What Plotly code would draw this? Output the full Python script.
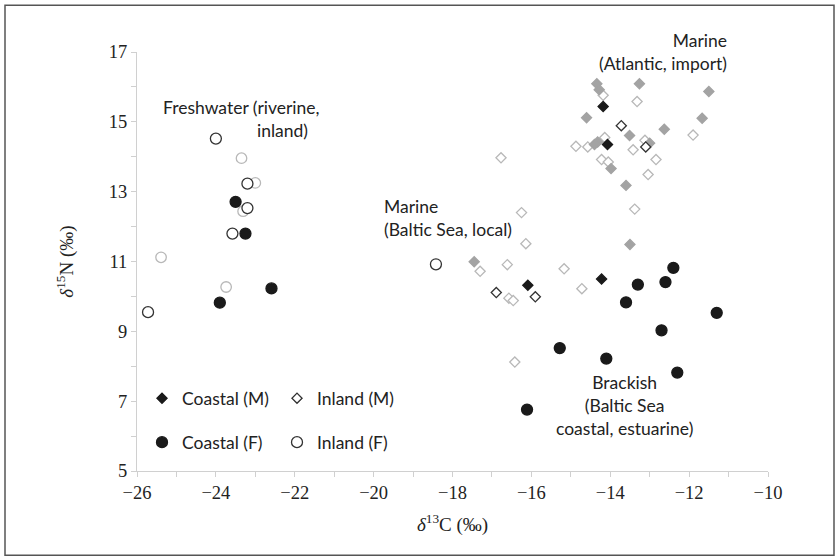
import plotly.graph_objects as go

# ---------------- data (δ13C, δ15N) ----------------
coastal_m_x = [-14.18, -14.07, -14.22, -16.09]
coastal_m_y = [15.44, 14.35, 10.50, 10.32]

inland_m_x = [-13.72, -13.10, -16.89, -15.90]
inland_m_y = [14.89, 14.28, 10.11, 9.99]

coastal_f_x = [-23.50, -23.25, -22.59, -23.90, -12.40, -13.30, -12.60, -13.60,
               -11.30, -12.70, -15.28, -14.10, -12.30, -16.11]
coastal_f_y = [12.71, 11.80, 10.23, 9.82, 10.82, 10.34, 10.41, 9.83,
               9.53, 9.03, 8.52, 8.22, 7.82, 6.76]

inland_f_x = [-24.00, -23.20, -23.20, -23.58, -25.72, -18.42]
inland_f_y = [14.52, 13.23, 12.53, 11.80, 9.55, 10.92]

# secondary (grey) samples, not in legend
grey_f_open_x = [-23.35, -23.00, -23.31, -25.39, -23.74]
grey_f_open_y = [13.96, 13.25, 12.44, 11.12, 10.27]

grey_m_filled_x = [-14.34, -14.28, -13.26, -11.50, -14.60, -11.67, -12.63, -13.51,
                   -14.32, -14.40, -13.00, -13.98, -13.60, -13.50, -17.45]
grey_m_filled_y = [16.09, 15.92, 16.09, 15.87, 15.12, 15.10, 14.79, 14.61,
                   14.42, 14.35, 14.39, 13.66, 13.18, 11.49, 10.99]

grey_m_open_x = [-14.18, -13.32, -11.90, -14.14, -14.87, -14.57, -13.12, -13.42,
                 -12.84, -14.22, -14.05, -13.04, -13.38, -16.77, -16.25, -16.14,
                 -17.30, -16.61, -15.17, -14.72, -16.57, -16.46, -16.42]
grey_m_open_y = [15.76, 15.58, 14.62, 14.55, 14.30, 14.28, 14.47, 14.20,
                 13.92, 13.92, 13.85, 13.49, 12.50, 13.97, 12.40, 11.51,
                 10.72, 10.91, 10.79, 10.22, 9.95, 9.88, 8.12]

x_ticks = [-26, -24, -22, -20, -18, -16, -14, -12, -10]
y_ticks = [5, 7, 9, 11, 13, 15, 17]

BLACK = "#1a1a1a"
GREY_FILL = "#a3a3a3"
GREY_LINE = "#b8b8b8"
SANS = "Lato, 'Open Sans', sans-serif"
SERIF = "'Liberation Serif', 'DejaVu Serif', serif"

fig = go.Figure()


def add(xs, ys, name, symbol, fill, line_color, size, legend="legend", show=False):
    fig.add_trace(go.Scatter(
        x=xs, y=ys, mode="markers", name=name, showlegend=show, legend=legend,
        marker=dict(symbol=symbol, size=size, color=fill,
                    line=dict(color=line_color, width=1.3)),
        hoverinfo="x+y+name"))


add(grey_f_open_x, grey_f_open_y, "grey F", "circle", "white", GREY_LINE, 10.5)
add(grey_m_open_x, grey_m_open_y, "grey M open", "diamond", "white", GREY_LINE, 7.8)
add(grey_m_filled_x, grey_m_filled_y, "grey M", "diamond", GREY_FILL, GREY_FILL, 7.8)
add(coastal_m_x, coastal_m_y, "Coastal (M)", "diamond", BLACK, BLACK, 7.8, "legend", True)
add(inland_m_x, inland_m_y, "Inland (M)", "diamond", "white", "#333333", 7.8, "legend2", True)
add(coastal_f_x, coastal_f_y, "Coastal (F)", "circle", BLACK, BLACK, 11, "legend3", True)
add(inland_f_x, inland_f_y, "Inland (F)", "circle", "white", "#333333", 11, "legend4", True)

L, R, T, B = 137, 768, 51.7, 470.7
PW, PH = R - L, B - T


def px_x(px):
    return (px - L) / PW


def px_y(py):
    return (B - py) / PH


def leg(px, py):
    return dict(x=px_x(px), y=px_y(py), xanchor="left", yanchor="middle",
                bgcolor="rgba(0,0,0,0)", borderwidth=0,
                font=dict(family=SANS, size=17.5, color="#222222"),
                itemclick=False, itemdoubleclick=False)


axis_common = dict(showgrid=False, zeroline=False, showline=True,
                   linecolor="#d0d0d0", linewidth=1, ticks="outside",
                   ticklen=5, tickcolor="#d0d0d0",
                   tickfont=dict(family=SERIF, size=18.5, color="#222222"))

fig.update_layout(
    width=839, height=560,
    margin=dict(l=L, r=839 - R, t=T, b=560 - B),
    plot_bgcolor="white", paper_bgcolor="white",
    xaxis=dict(range=[-26, -10], tickvals=x_ticks,
               minor=dict(dtick=1, ticks="outside", ticklen=5, tickcolor="#d0d0d0"),
               title=dict(text="<i>δ</i><sup>13</sup>C (‰)", standoff=15,
                          font=dict(family=SERIF, size=19, color="#222222")),
               **axis_common),
    yaxis=dict(range=[5, 17], tickvals=y_ticks,
               minor=dict(dtick=1, ticks="outside", ticklen=5, tickcolor="#d0d0d0"),
               title=dict(text="<i>δ</i><sup>15</sup>N (‰)", standoff=30,
                          font=dict(family=SERIF, size=19, color="#222222")),
               **axis_common),
    legend=leg(142, 398),
    legend2=leg(277, 398),
    legend3=leg(142, 442),
    legend4=leg(277, 442),
    showlegend=True,
)

ann_font = dict(family=SANS, size=17.5, color="#222222")
fig.add_annotation(x=-23.34, y=15.42, xref="x", yref="y", text="Freshwater (riverine,",
                   showarrow=False, font=ann_font, xanchor="center", yanchor="middle")
fig.add_annotation(x=-22.30, y=14.76, xref="x", yref="y", text="inland)",
                   showarrow=False, font=ann_font, xanchor="center", yanchor="middle")
fig.add_annotation(x=-19.80, y=12.25, xref="x", yref="y", text="Marine<br>(Baltic Sea, local)",
                   showarrow=False, font=ann_font, xanchor="left", yanchor="middle", align="left")
fig.add_annotation(x=-11.0, y=16.99, xref="x", yref="y", text="Marine<br>(Atlantic, import)",
                   showarrow=False, font=ann_font, xanchor="right", yanchor="middle", align="right")
fig.add_annotation(x=-13.65, y=6.89, xref="x", yref="y",
                   text="Brackish<br>(Baltic Sea<br>coastal, estuarine)",
                   showarrow=False, font=ann_font, xanchor="center", yanchor="middle", align="center")

# outer frame
fig.add_shape(type="rect", xref="paper", yref="paper", layer="above",
              x0=px_x(5), x1=px_x(834), y0=px_y(555), y1=px_y(5),
              line=dict(color="#555555", width=1.5), fillcolor="rgba(0,0,0,0)")

fig.write_html("out.html", config={"displayModeBar": False},
               post_script="document.body.style.margin='0px';document.body.style.overflow='hidden';")
